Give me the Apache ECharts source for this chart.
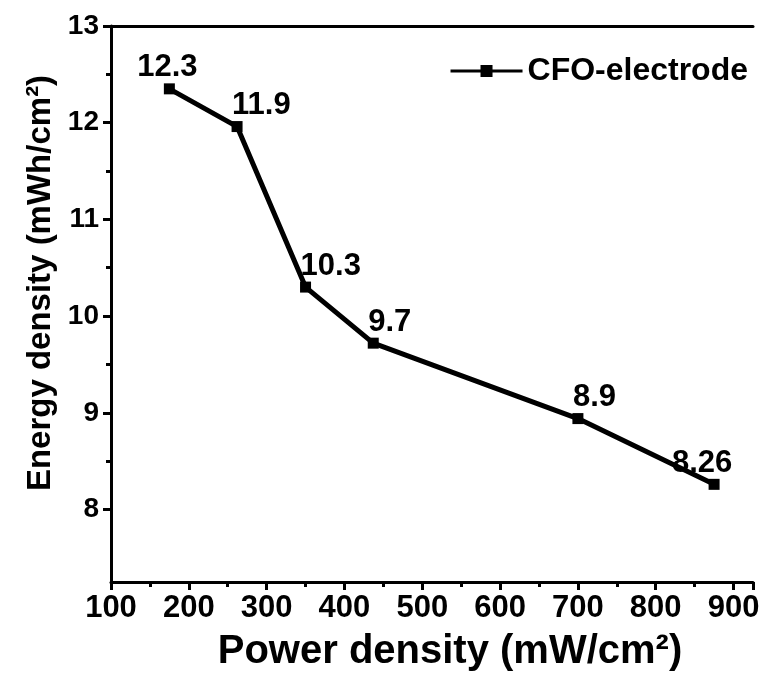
<!DOCTYPE html>
<html>
<head>
<meta charset="utf-8">
<script src="https://cdn.jsdelivr.net/npm/echarts@6/dist/echarts.min.js"></script>
<style>html,body{margin:0;padding:0;background:#fff}#c{width:765px;height:675px}</style>
</head>
<body>
<div id="c"></div>
<script>
const seriesName = 'CFO-electrode';
const powerDensity = [175, 262, 350, 437, 700, 875];
const energyDensity = [12.35, 11.96, 10.3, 9.72, 8.94, 8.26];
const pointLabels = ['12.3', '11.9', '10.3', '9.7', '8.9', '8.26'];
const yMajorTicks = [8, 9, 10, 11, 12, 13];
const yMinorTicks = [8.5, 9.5, 10.5, 11.5, 12.5];
const xTitle = 'Power density (mW/cm²)';
const yTitle = 'Energy density (mWh/cm²)';

const chart = echarts.init(document.getElementById('c'));
const font = 'Liberation Sans, Arial, sans-serif';
const narrow = 'Liberation Sans Narrow, Liberation Sans, Arial, sans-serif';
const last = powerDensity.length - 1;
const data = powerDensity.map((x, i) => {
  let lab = {formatter: pointLabels[i], align: 'left', offset: [-5, 5]};
  if (i === 0) lab = {formatter: pointLabels[i], align: 'center', offset: [-2, 5]};
  if (i === last) lab = {formatter: pointLabels[i], align: 'center', offset: [-12, 5]};
  return {value: [x, energyDensity[i]], label: lab};
});
const yMin = 7.25, yMax = 13;
chart.setOption({
  animation: false,
  backgroundColor: '#fff',
  grid: {left: 111, top: 26, right: 12, bottom: 93, outerBoundsMode: 'none', containLabel: false},
  legend: {
    right: 12, top: 50,
    itemWidth: 72, itemHeight: 12, itemGap: 8,
    textStyle: {fontFamily: font, fontWeight: 'bold', fontSize: 32, color: '#000'},
    data: [{name: seriesName, icon: 'path://M0,4.5 L30,4.5 L30,0 L42,0 L42,4.5 L72,4.5 L72,7.5 L42,7.5 L42,12 L30,12 L30,7.5 L0,7.5 Z'}]
  },
  xAxis: [{
    type: 'value', min: 100, max: 925, interval: 100,
    name: xTitle, nameLocation: 'middle', nameGap: 50,
    nameTextStyle: {fontFamily: font, fontWeight: 'bold', fontSize: 40, color: '#000', padding: [0, 0, 0, 36]},
    axisLine: {lineStyle: {color: '#000', width: 3}},
    axisTick: {inside: false, length: 8, lineStyle: {color: '#000', width: 3}},
    minorTick: {show: true, splitNumber: 2, length: 5, lineStyle: {color: '#000', width: 3}},
    axisLabel: {fontFamily: narrow, fontWeight: 'bold', fontSize: 31, color: '#000', margin: 11,
      formatter: v => (v % 100 === 0 && v <= 900) ? String(v) : ''},
    splitLine: {show: false}
  }, {
    type: 'value', position: 'top', min: 100, max: 925,
    axisLine: {show: true, onZero: false, lineStyle: {color: '#000', width: 3}},
    axisTick: {show: false}, axisLabel: {show: false}, splitLine: {show: false}
  }],
  yAxis: [{
    type: 'value', min: yMin, max: yMax,
    name: yTitle, nameLocation: 'middle', nameGap: 54,
    nameTextStyle: {fontFamily: font, fontWeight: 'bold', fontSize: 33, color: '#000', padding: [0, 0, 0, 42]},
    axisLine: {show: true, onZero: false, lineStyle: {color: '#000', width: 3}},
    axisTick: {inside: false, length: 8, customValues: yMajorTicks, lineStyle: {color: '#000', width: 3}},
    axisLabel: {fontFamily: font, fontWeight: 'bold', fontSize: 28, color: '#000', margin: 12, customValues: yMajorTicks},
    splitLine: {show: false}
  }, {
    type: 'value', min: yMin, max: yMax, position: 'left',
    axisLine: {show: false, onZero: false},
    axisTick: {show: true, inside: false, length: 5, customValues: yMinorTicks, lineStyle: {color: '#000', width: 3}},
    axisLabel: {show: false}, splitLine: {show: false}
  }],
  series: [{
    name: seriesName, type: 'line', data: data,
    symbol: 'rect', symbolSize: 11,
    itemStyle: {color: '#000'},
    lineStyle: {color: '#000', width: 5},
    label: {show: true, position: 'top', fontFamily: font, fontWeight: 'bold', fontSize: 31, color: '#000'}
  }]
});
</script>
</body>
</html>
